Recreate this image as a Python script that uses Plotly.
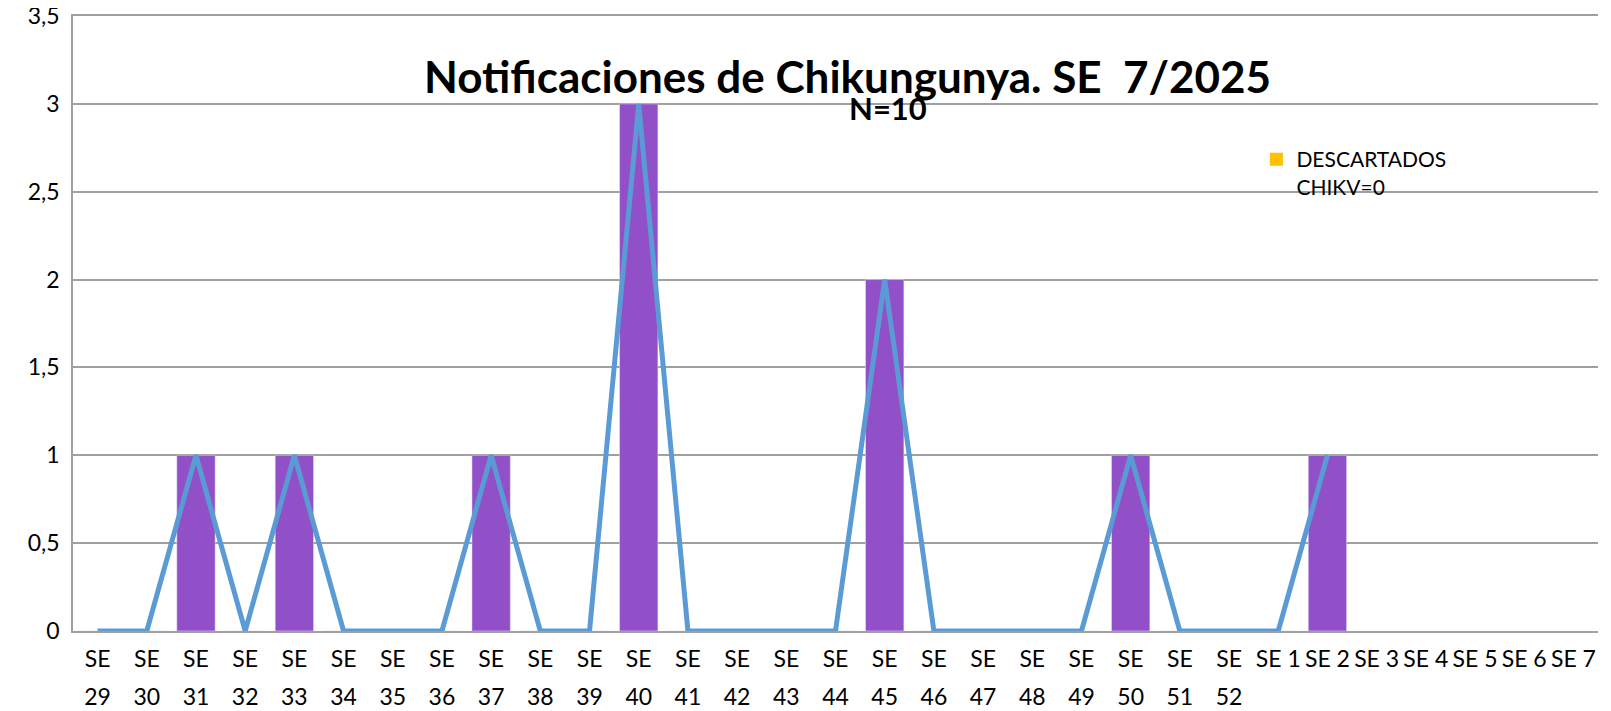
import plotly.graph_objects as go

weeks = [f"SE {n}" for n in list(range(29, 53)) + list(range(1, 8))]
tick_labels_top = ["SE"] * 24 + [f"SE {n}" for n in range(1, 8)]
tick_labels_bottom = [str(n) for n in range(29, 53)] + [""] * 7
bar_values = [0, 0, 1, 0, 1, 0, 0, 0, 1, 0, 0, 3, 0, 0, 0, 0, 2, 0, 0, 0, 0, 1, 0, 0, 0, 1,
              None, None, None, None, None]
line_values = [0, 0, 1, 0, 1, 0, 0, 0, 1, 0, 0, 3, 0, 0, 0, 0, 2, 0, 0, 0, 0, 1, 0, 0, 0, 1,
               None, None, None, None, None]
descartados = [None] * len(weeks)

FONT = "Lato"

fig = go.Figure()
fig.add_trace(go.Bar(x=weeks, y=bar_values, marker_color="#9150C8", showlegend=False,
                     hoverinfo="skip"))
fig.add_trace(go.Scatter(x=weeks, y=line_values, mode="lines", showlegend=False,
                         xaxis="x2",
                         line=dict(color="#5B9BD5", width=5), connectgaps=False,
                         hoverinfo="skip"))
fig.add_trace(go.Scatter(x=weeks, y=descartados, name="DESCARTADOS<br>CHIKV=0",
                         mode="markers",
                         marker=dict(symbol="square", size=13, color="#FFC000"),
                         showlegend=True, hoverinfo="skip"))

fig.update_layout(
    width=1611, height=711,
    margin=dict(l=65, r=21, t=8, b=88),
    paper_bgcolor="white", plot_bgcolor="white",
    separators=", ",
    barmode="overlay",
    bargap=0.22,
    font=dict(family=FONT, size=22, color="black"),
    legend=dict(x=0.776, y=0.80, xanchor="left", yanchor="top", valign="top",
                font=dict(family=FONT, size=21, color="black"),
                bgcolor="rgba(0,0,0,0)"),
    annotations=[
        dict(text="<b>Notificaciones de Chikungunya. SE \u00a07/2025</b>", xref="paper", yref="paper",
             x=0.508, y=(631 - 76) / 615, xanchor="center", yanchor="middle", showarrow=False,
             font=dict(family=FONT, size=44, color="black")),
        dict(text="<b>N=10</b>", xref="paper", yref="paper",
             x=(888 - 73) / 1525, y=(631 - 108) / 615, xanchor="center", yanchor="middle",
             showarrow=False, font=dict(family=FONT, size=31, color="black")),
    ],
    xaxis=dict(
        type="category", categoryorder="array", categoryarray=weeks,
        tickmode="array", tickvals=weeks, ticktext=tick_labels_top,
        showgrid=False, showline=True, mirror=True, linecolor="#A0A0A0", linewidth=1.5,
        ticks="", tickfont=dict(family=FONT, size=23, color="black"),
        ticklabelstandoff=7, range=[-0.5, 30.5], automargin=False,
    ),
    xaxis2=dict(
        type="category", categoryorder="array", categoryarray=weeks,
        overlaying="x", side="bottom", anchor="y",
        tickmode="array", tickvals=weeks, ticktext=tick_labels_bottom,
        showgrid=False, showline=False, zeroline=False,
        ticks="", tickfont=dict(family=FONT, size=23, color="black"),
        ticklabelstandoff=50, range=[-0.5, 30.5], automargin=False,
    ),
    yaxis=dict(
        range=[0, 3.5], dtick=0.5, showgrid=True, gridcolor="#A0A0A0", gridwidth=1.5,
        showline=True, linecolor="#A0A0A0", linewidth=1.5, zeroline=False,
        ticks="", tickfont=dict(family=FONT, size=23, color="black"),
        ticklabelstandoff=7, automargin=False, ticklabeloverflow="allow",
    ),
)

fig.write_html("out.html")
